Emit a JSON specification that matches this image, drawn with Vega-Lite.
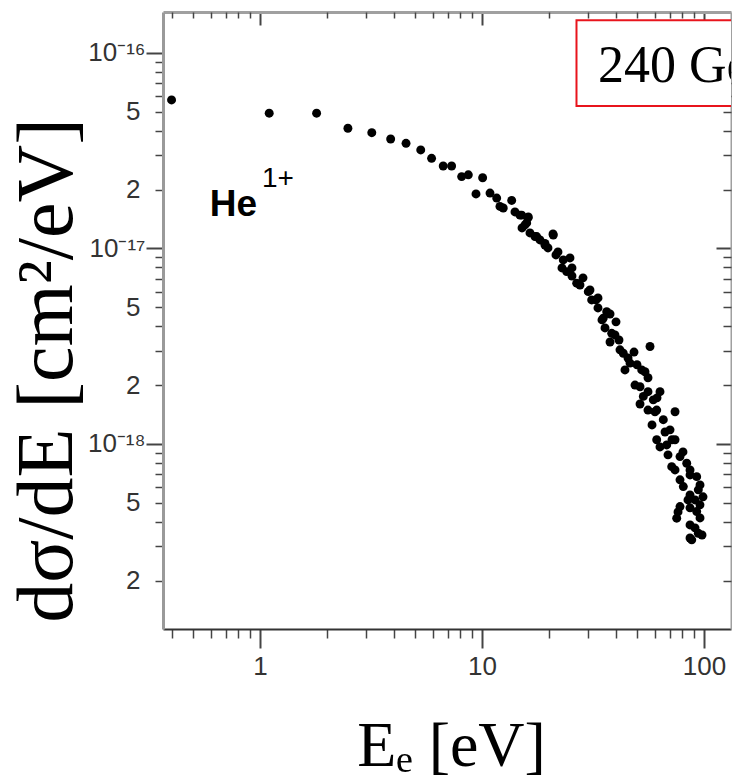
{
  "$schema": "https://vega.github.io/schema/vega-lite/v6.json",
  "width": 568,
  "height": 617,
  "autosize": {"type": "none"},
  "padding": {"left": 163, "top": 12, "right": 1, "bottom": 152},
  "background": "white",
  "config": {
    "view": {"stroke": null},
    "axis": {"grid": false, "labelFont": "Liberation Sans Narrow, Liberation Sans, Arial", "labelColor": "#333", "tickColor": "#444", "labelFontSize": 26, "labelOverlap": false, "labelFlush": false, "labelBound": false}
  },
  "datasets": {
    "pts": [
      {"x": 0.400, "y": 5.75e-17}, {"x": 1.101, "y": 4.92e-17}, {"x": 1.80, "y": 4.92e-17}, {"x": 2.49, "y": 4.12e-17},
      {"x": 3.19, "y": 3.91e-17}, {"x": 3.88, "y": 3.63e-17}, {"x": 4.55, "y": 3.45e-17}, {"x": 5.30, "y": 3.19e-17},
      {"x": 5.93, "y": 2.89e-17}, {"x": 6.69, "y": 2.64e-17}, {"x": 7.30, "y": 2.64e-17}, {"x": 8.10, "y": 2.33e-17},
      {"x": 8.68, "y": 2.38e-17}, {"x": 10.07, "y": 2.30e-17}, {"x": 9.40, "y": 1.90e-17}, {"x": 10.87, "y": 1.92e-17},
      {"x": 11.65, "y": 1.81e-17}, {"x": 12.47, "y": 1.61e-17}, {"x": 13.61, "y": 1.76e-17}, {"x": 14.83, "y": 1.48e-17},
      {"x": 16.17, "y": 1.45e-17}, {"x": 15.62, "y": 1.32e-17}, {"x": 17.64, "y": 1.15e-17}, {"x": 19.22, "y": 1.06e-17},
      {"x": 12.05, "y": 1.64e-17}, {"x": 15.10, "y": 1.48e-17}, {"x": 15.90, "y": 1.35e-17}, {"x": 17.33, "y": 1.15e-17},
      {"x": 20.95, "y": 1.17e-17}, {"x": 19.22, "y": 1.04e-17}, {"x": 23.24, "y": 8.73e-18}, {"x": 24.07, "y": 7.61e-18},
      {"x": 26.71, "y": 6.64e-18}, {"x": 30.12, "y": 6.01e-18}, {"x": 31.20, "y": 5.45e-18}, {"x": 36.45, "y": 4.75e-18},
      {"x": 35.19, "y": 4.40e-18}, {"x": 38.39, "y": 3.68e-18}, {"x": 57.13, "y": 3.15e-18}, {"x": 43.29, "y": 2.91e-18},
      {"x": 46.42, "y": 2.59e-18}, {"x": 52.42, "y": 2.39e-18}, {"x": 51.50, "y": 1.96e-18}, {"x": 53.30, "y": 1.75e-18},
      {"x": 59.10, "y": 1.68e-18}, {"x": 61.23, "y": 1.49e-18}, {"x": 74.05, "y": 1.46e-18}, {"x": 65.56, "y": 1.33e-18},
      {"x": 70.29, "y": 1.18e-18}, {"x": 61.23, "y": 1.05e-18}, {"x": 67.92, "y": 9.88e-19}, {"x": 77.97, "y": 8.61e-19},
      {"x": 71.54, "y": 7.65e-19}, {"x": 83.58, "y": 7.96e-19}, {"x": 92.70, "y": 6.80e-19}, {"x": 80.68, "y": 6.05e-19},
      {"x": 94.25, "y": 5.82e-19}, {"x": 91.10, "y": 5.17e-19}, {"x": 77.97, "y": 4.78e-19}, {"x": 92.70, "y": 4.51e-19},
      {"x": 75.34, "y": 4.17e-19}, {"x": 94.25, "y": 3.49e-19}, {"x": 88.05, "y": 3.23e-19},
      {"x": 21.99, "y": 9.60e-18}, {"x": 25.43, "y": 7.95e-18}, {"x": 28.51, "y": 7.07e-18}, {"x": 33.31, "y": 5.58e-18},
      {"x": 40.14, "y": 4.21e-18}, {"x": 41.41, "y": 3.40e-18}, {"x": 48.39, "y": 2.95e-18}, {"x": 55.94, "y": 2.18e-18},
      {"x": 63.36, "y": 1.85e-18}, {"x": 55.94, "y": 1.49e-18}, {"x": 74.05, "y": 1.05e-18}, {"x": 86.5, "y": 6.94e-19},
      {"x": 84.7, "y": 5.17e-19}, {"x": 95.9, "y": 4.88e-19}, {"x": 86.5, "y": 3.85e-19},
      {"x": 14.08, "y": 1.537e-17}, {"x": 16.11, "y": 1.432e-17}, {"x": 15.15, "y": 1.273e-17}, {"x": 16.45, "y": 1.20e-17},
      {"x": 18.25, "y": 1.105e-17}, {"x": 20.89, "y": 1.186e-17}, {"x": 19.83, "y": 1.006e-17}, {"x": 21.54, "y": 9.26e-18},
      {"x": 24.91, "y": 8.94e-18}, {"x": 22.93, "y": 7.95e-18}, {"x": 25.43, "y": 7.23e-18}, {"x": 27.63, "y": 6.50e-18},
      {"x": 30.65, "y": 6.13e-18}, {"x": 32.62, "y": 5.45e-18}, {"x": 33.31, "y": 4.96e-18}, {"x": 37.73, "y": 4.62e-18},
      {"x": 34.72, "y": 4.31e-18}, {"x": 35.82, "y": 3.92e-18}, {"x": 39.72, "y": 3.61e-18}, {"x": 37.73, "y": 3.32e-18},
      {"x": 41.84, "y": 3.03e-18}, {"x": 45.47, "y": 2.75e-18}, {"x": 49.91, "y": 2.54e-18}, {"x": 54.23, "y": 2.34e-18},
      {"x": 44.07, "y": 2.39e-18}, {"x": 48.89, "y": 2.00e-18}, {"x": 55.94, "y": 1.85e-18}, {"x": 61.42, "y": 1.72e-18},
      {"x": 51.50, "y": 1.60e-18}, {"x": 60.16, "y": 1.46e-18}, {"x": 58.32, "y": 1.25e-18}, {"x": 66.74, "y": 1.15e-18},
      {"x": 63.36, "y": 9.65e-19}, {"x": 71.76, "y": 1.05e-18}, {"x": 68.84, "y": 8.79e-19}, {"x": 80.41, "y": 9.10e-19},
      {"x": 86.49, "y": 7.36e-19}, {"x": 74.05, "y": 7.36e-19}, {"x": 77.97, "y": 6.55e-19}, {"x": 95.94, "y": 6.17e-19},
      {"x": 86.49, "y": 5.48e-19}, {"x": 98.97, "y": 5.36e-19}, {"x": 76.37, "y": 4.49e-19}, {"x": 86.49, "y": 4.71e-19},
      {"x": 95.94, "y": 4.18e-19}, {"x": 91.10, "y": 3.72e-19}, {"x": 97.95, "y": 3.42e-19}, {"x": 86.49, "y": 3.30e-19}
    ],
    "box": [{"x1": 26.65, "x2": 1000, "y1": 5.36e-17, "y2": 1.47e-16}],
    "lbl": [{"x": 33.3, "y": 7.11e-17, "t": "240 GeV/u"}],
    "he": [{"x": 0.595, "y": 1.466e-17, "t": "He"}],
    "sup": [{"x": 1.021, "y": 2.064e-17, "t": "1+"}]
  },
  "resolve": {"scale": {"x": "independent", "y": "independent"}},
  "layer": [
    {
      "data": {"name": "box"},
      "mark": {"type": "rect", "fill": "white", "stroke": "#e8141c", "strokeWidth": 2, "clip": true},
      "encoding": {
        "x": {"field": "x1", "type": "quantitative", "scale": {"type": "log", "domain": [0.366, 132.3], "nice": false},
          "axis": {"orient": "bottom", "values": [0.4, 0.5, 0.6, 0.7, 0.8, 0.9, 2, 3, 4, 5, 6, 7, 8, 9, 20, 30, 40, 50, 60, 70, 80, 90], "tickSize": 9, "tickWidth": 1.5, "labels": false, "domain": false, "title": null}},
        "x2": {"field": "x2"},
        "y": {"field": "y1", "type": "quantitative", "scale": {"type": "log", "domain": [1.13e-19, 1.62e-16], "nice": false},
          "axis": {"orient": "left", "values": [2e-19, 3e-19, 4e-19, 5e-19, 6e-19, 7e-19, 8e-19, 9e-19, 2e-18, 3e-18, 4e-18, 5e-18, 6e-18, 7e-18, 8e-18, 9e-18, 2e-17, 3e-17, 4e-17, 5e-17, 6e-17, 7e-17, 8e-17, 9e-17], "tickSize": 8, "tickWidth": 1.5, "labelPadding": 15, "domain": false, "title": null,
            "labelExpr": "indexof([2,5], round(datum.value / pow(10, floor(log(datum.value)/LN10 + 1e-6)))) >= 0 ? '' + round(datum.value / pow(10, floor(log(datum.value)/LN10 + 1e-6))) : ''"}},
        "y2": {"field": "y2"}
      }
    },
    {
      "data": {"name": "pts"},
      "mark": {"type": "circle", "size": 80, "color": "black", "opacity": 1},
      "encoding": {
        "x": {"field": "x", "type": "quantitative", "scale": {"type": "log", "domain": [0.366, 132.3], "nice": false},
          "axis": {"orient": "bottom", "values": [1, 10, 100], "tickSize": 19, "tickWidth": 2, "labelPadding": 5,
            "labelExpr": "datum.value < 5 ? '1' : datum.value < 50 ? '10' : '100'",
            "domainColor": "#333", "domainWidth": 2,
            "title": "Eₑ [eV]", "titleFont": "Liberation Serif", "titleFontSize": 64, "titleFontWeight": "normal", "titleColor": "black",
            "titleBaseline": "alphabetic", "titleX": 288, "titleY": 136}},
        "y": {"field": "y", "type": "quantitative", "scale": {"type": "log", "domain": [1.13e-19, 1.62e-16], "nice": false},
          "axis": {"orient": "left", "values": [1e-16, 1e-17, 1e-18], "tickSize": 17, "tickWidth": 2, "labelPadding": 1,
            "labelExpr": "datum.value > 5e-17 ? '10⁻¹⁶' : datum.value > 5e-18 ? '10⁻¹⁷' : '10⁻¹⁸'",
            "domainColor": "#9a9a9a", "domainWidth": 3,
            "title": "dσ/dE  [cm²/eV]", "titleFont": "Liberation Serif", "titleFontSize": 80, "titleFontWeight": "normal", "titleColor": "black",
            "titleAngle": 270, "titleBaseline": "alphabetic", "titleX": -92, "titleY": 358}}
      }
    },
    {
      "data": {"name": "lbl"},
      "mark": {"type": "text", "font": "Liberation Serif", "fontSize": 52, "align": "left", "baseline": "alphabetic", "color": "black", "clip": true},
      "encoding": {
        "x": {"field": "x", "type": "quantitative", "scale": {"type": "log", "domain": [0.366, 132.3], "nice": false},
          "axis": {"orient": "top", "values": [1, 10, 100], "tickSize": -13, "tickWidth": 2, "labels": false, "domainColor": "#a0a0a0", "domainWidth": 3, "title": null}},
        "y": {"field": "y", "type": "quantitative", "scale": {"type": "log", "domain": [1.13e-19, 1.62e-16], "nice": false},
          "axis": {"orient": "right", "values": [1e-16, 1e-17, 1e-18], "tickSize": -15, "tickWidth": 2, "labels": false, "domainColor": "#a0a0a0", "domainWidth": 2, "title": null}},
        "text": {"field": "t"}
      }
    },
    {
      "data": {"name": "he"},
      "mark": {"type": "text", "font": "Liberation Sans", "fontSize": 37, "fontWeight": "bold", "align": "left", "baseline": "alphabetic", "color": "black"},
      "encoding": {
        "x": {"field": "x", "type": "quantitative", "scale": {"type": "log", "domain": [0.366, 132.3], "nice": false},
          "axis": {"orient": "top", "values": [0.4, 0.5, 0.6, 0.7, 0.8, 0.9, 2, 3, 4, 5, 6, 7, 8, 9, 20, 30, 40, 50, 60, 70, 80, 90], "tickSize": -6, "tickWidth": 1.5, "labels": false, "domain": false, "title": null}},
        "y": {"field": "y", "type": "quantitative", "scale": {"type": "log", "domain": [1.13e-19, 1.62e-16], "nice": false},
          "axis": {"orient": "right", "values": [2e-19, 3e-19, 4e-19, 5e-19, 6e-19, 7e-19, 8e-19, 9e-19, 2e-18, 3e-18, 4e-18, 5e-18, 6e-18, 7e-18, 8e-18, 9e-18, 2e-17, 3e-17, 4e-17, 5e-17, 6e-17, 7e-17, 8e-17, 9e-17], "tickSize": -8, "tickWidth": 1.5, "labels": false, "domain": false, "title": null}},
        "text": {"field": "t"}
      }
    },
    {
      "data": {"name": "sup"},
      "mark": {"type": "text", "font": "Liberation Sans", "fontSize": 28, "align": "left", "baseline": "alphabetic", "color": "black"},
      "encoding": {
        "x": {"field": "x", "type": "quantitative", "scale": {"type": "log", "domain": [0.366, 132.3], "nice": false}, "axis": null},
        "y": {"field": "y", "type": "quantitative", "scale": {"type": "log", "domain": [1.13e-19, 1.62e-16], "nice": false}, "axis": null},
        "text": {"field": "t"}
      }
    }
  ]
}
